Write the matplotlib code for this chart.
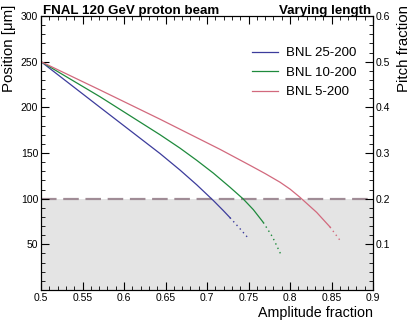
import matplotlib.pyplot as plt
import numpy as np
from matplotlib.ticker import MultipleLocator, FixedLocator

plt.rcParams['font.family'] = ['Liberation Sans', 'DejaVu Sans']

# amplitude fraction vs position, solid part + dotted tail
blue_x = [0.5, 0.5711, 0.6434, 0.6675, 0.6876, 0.7076, 0.7197, 0.7277]
blue_y = [250, 200, 149.4, 131.3, 115.2, 98, 86.9, 79.2]
blue_tx = [0.7277, 0.739, 0.75]
blue_ty = [79.2, 67.9, 56.4]

green_x = [0.5, 0.5711, 0.6434, 0.6675, 0.6876, 0.7076, 0.7277, 0.7437, 0.7558, 0.7678]
green_y = [250, 211.6, 170, 155.3, 142, 128, 112.5, 99.6, 88, 74]
green_tx = [0.7678, 0.779, 0.79]
green_ty = [74, 58, 37]

pink_x = [0.5, 0.5711, 0.6434, 0.6675, 0.7157, 0.7518, 0.77, 0.788, 0.80, 0.812, 0.8321, 0.8482]
pink_y = [250, 219, 187, 176, 154, 136.5, 127.5, 118, 110.5, 101.5, 85, 69]
pink_tx = [0.8482, 0.86]
pink_ty = [69, 54.7]

labels = ['BNL 25-200', 'BNL 10-200', 'BNL 5-200']
colors = ['#3c3c9c', '#1e8a3c', '#d2697d']
xticks = [0.5, 0.55, 0.6, 0.65, 0.7, 0.75, 0.8, 0.85, 0.9]
xticklabels = ['0.5', '0.55', '0.6', '0.65', '0.7', '0.75', '0.8', '0.85', '0.9']
threshold = 100

fig = plt.figure(figsize=(4.15, 3.22), dpi=100)
ax = fig.add_axes([0.0988, 0.0994, 0.8, 0.8509])

ax.axhspan(0, threshold, color='#e4e4e4', lw=0, zorder=0)
ax.axhline(threshold, color='#a08c96', lw=1.6, dashes=(7, 3), zorder=1)

series = [(blue_x, blue_y, blue_tx, blue_ty),
          (green_x, green_y, green_tx, green_ty),
          (pink_x, pink_y, pink_tx, pink_ty)]
for (sx, sy, tx, ty), c, lab in zip(series, colors, labels):
    ax.plot(sx, sy, color=c, lw=0.9, label=lab, zorder=3)
    ax.plot(tx, ty, color=c, lw=1.0, dashes=(1, 2.5), zorder=3)

ax.set_xlim(0.5, 0.9)
ax.set_ylim(0, 300)
ax.xaxis.set_major_locator(FixedLocator(xticks))
ax.xaxis.set_minor_locator(MultipleLocator(0.01))
ax.set_xticklabels(xticklabels)
ax.yaxis.set_major_locator(FixedLocator([50, 100, 150, 200, 250, 300]))
ax.yaxis.set_minor_locator(MultipleLocator(10))
ax.tick_params(which='both', direction='in', top=True, right=False, labelsize=7.5, pad=2)
ax.tick_params(which='major', length=6)
ax.tick_params(which='minor', length=3)

ax2 = ax.twinx()
ax2.set_ylim(0, 0.6)
ax2.yaxis.set_major_locator(FixedLocator([0.1, 0.2, 0.3, 0.4, 0.5, 0.6]))
ax2.yaxis.set_minor_locator(MultipleLocator(0.02))
ax2.set_yticklabels(['0.1', '0.2', '0.3', '0.4', '0.5', '0.6'])
ax2.tick_params(which='both', direction='in', labelsize=7.5, pad=2)
ax2.tick_params(which='major', length=6)
ax2.tick_params(which='minor', length=3)

ax.legend(loc='upper left', bbox_to_anchor=(0.6, 0.93), frameon=False,
          fontsize=9.5, handlelength=2.0, handletextpad=0.6, labelspacing=0.55)

fig.text(0.103, 0.965, 'FNAL 120 GeV proton beam', fontsize=9.6, fontweight='bold', va='center')
fig.text(0.895, 0.965, 'Varying length', fontsize=9.6, fontweight='bold', va='center', ha='right')
fig.text(0.022, 0.985, 'Position [\u03bcm]', fontsize=10.8, rotation=90, va='top', ha='center')
fig.text(0.974, 0.985, 'Pitch fraction', fontsize=10.8, rotation=90, va='top', ha='center')
fig.text(0.899, 0.028, 'Amplitude fraction', fontsize=10.3, ha='right', va='center')

fig.savefig('out.png', dpi=100)
